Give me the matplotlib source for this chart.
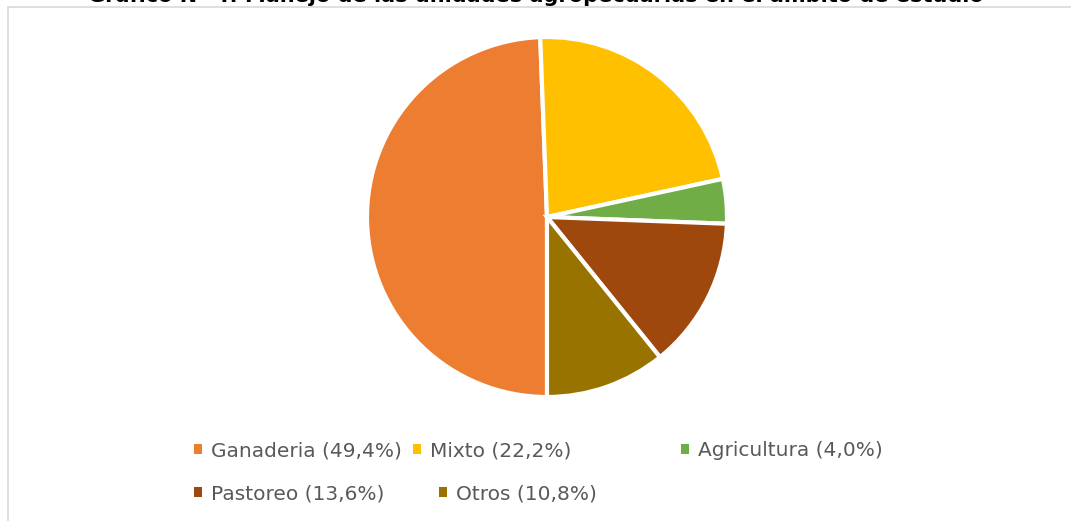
import matplotlib.pyplot as plt
from matplotlib.patches import Patch, Rectangle

# datos del gráfico
categorias = ["Ganaderia", "Mixto", "Agricultura", "Pastoreo", "Otros"]
porcentajes = [49.4, 22.2, 4.0, 13.6, 10.8]
colores = ["#ED7D31", "#FFC000", "#70AD47", "#9E480E", "#997300"]
titulo = "Gráfico N° 4: Manejo de las unidades agropecuarias en el ámbito de estudio"

W, H = 1071, 521
fig = plt.figure(figsize=(W / 100, H / 100), dpi=100)

# marco gris del area del grafico
fig.patches.append(Rectangle((8 / W, -0.05), 1.1, (H - 7) / H + 0.05, transform=fig.transFigure,
                             fill=False, edgecolor="#D9D9D9", linewidth=1.2))

# titulo (cortado en la parte superior como en la imagen)
fig.text(0.5, 1 - 1.5 / H, titulo, ha="center", va="baseline", fontsize=15, fontweight="bold",
         color="black")

# pastel
cx, cy, r = 547, H - 217, 180
ax = fig.add_axes([(cx - r) / W, (cy - r) / H, 2 * r / W, 2 * r / H])
wedges, _ = ax.pie(porcentajes, colors=colores, startangle=-90, counterclock=False,
                   wedgeprops=dict(edgecolor="white", linewidth=3))
ax.set_xlim(-1, 1)
ax.set_ylim(-1, 1)
ax.set_aspect("equal")
ax.axis("off")

# leyenda (cada entrada colocada como en Excel)
etiquetas = [f"{c} ({str(p).replace('.', ',')}%)" for c, p in zip(categorias, porcentajes)]
posiciones = [(194, 451), (413, 451), (681, 451), (194, 494), (439, 494)]
for etq, col, (px, py) in zip(etiquetas, colores, posiciones):
    leg = fig.legend(handles=[Patch(facecolor=col, edgecolor="none")], labels=[etq],
                     loc="center left", bbox_to_anchor=(px / W, 1 - py / H),
                     frameon=False, fontsize=14.5, handlelength=0.4, handleheight=0.4,
                     handletextpad=0.45, borderpad=0, borderaxespad=0, labelcolor="#595959")

fig.savefig("out.png", dpi=100)
